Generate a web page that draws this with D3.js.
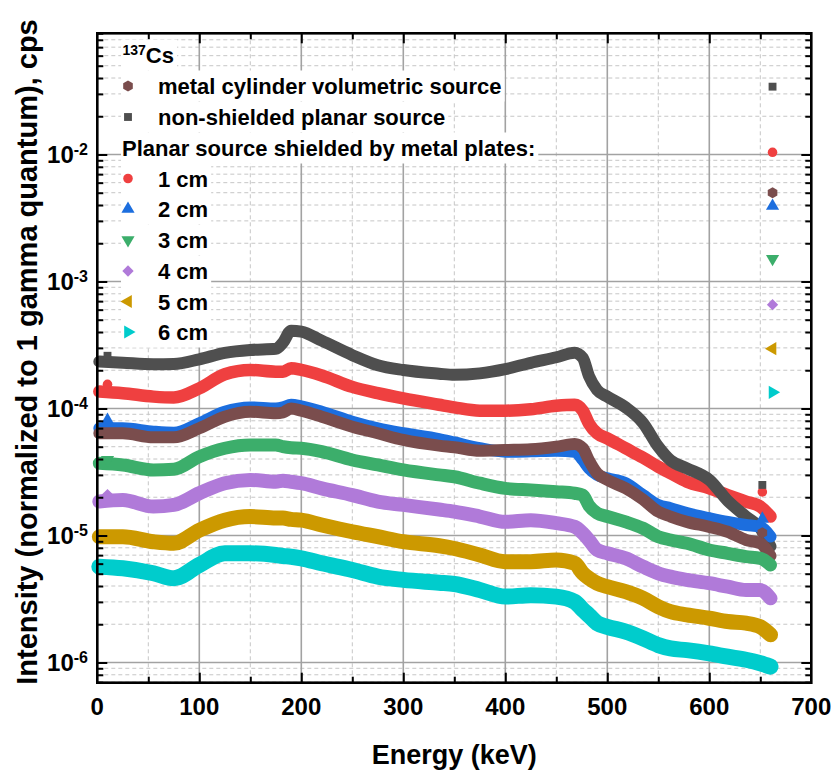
<!DOCTYPE html>
<html>
<head>
<meta charset="utf-8">
<script src="https://cdn.jsdelivr.net/npm/d3@7/dist/d3.min.js"></script>
<style>
body { margin: 0; background: #fff; }
text { font-family: "Liberation Sans", Arial, sans-serif; font-weight: bold; fill: #000; }
</style>
</head>
<body>
<svg id="chart" width="832" height="776"></svg>
<script>
"use strict";

// energy grid (keV) shared by all spectra
var energies = [2, 25, 55, 75, 100, 125, 150, 175, 182, 190, 200, 220, 250, 275, 300, 335, 350, 375, 400, 425,
    450, 468, 476, 482, 490, 500, 518, 535, 550, 562, 578, 600, 618, 636, 650, 660];

var nonShielded = [2.34e-4, 2.29e-4, 2.23e-4, 2.24e-4, 2.44e-4, 2.74e-4, 2.89e-4, 2.95e-4, 3.3e-4, 4.1e-4, 4.03e-4, 3.42e-4,
    2.63e-4, 2.19e-4, 2.01e-4, 1.88e-4, 1.84e-4, 1.89e-4, 2.04e-4, 2.29e-4, 2.53e-4, 2.75e-4, 2.5e-4, 1.8e-4, 1.4e-4,
    1.24e-4, 1.02e-4, 7.7e-5, 5.0e-5, 3.9e-5, 3.38e-5, 2.74e-5, 1.88e-5, 1.41e-5, 1.14e-5, 8.2e-6];
var metalCylinder = [6.38e-5, 6.38e-5, 5.93e-5, 5.93e-5, 6.98e-5, 8.62e-5, 9.43e-5, 9.16e-5, 9.3e-5, 1.0e-4, 9.61e-5, 8.62e-5,
    7.19e-5, 6.38e-5, 5.65e-5, 5.1e-5, 4.95e-5, 4.65e-5, 4.71e-5, 4.77e-5, 5.0e-5, 5.25e-5, 4.86e-5, 3.9e-5, 3.09e-5,
    2.74e-5, 2.35e-5, 1.92e-5, 1.54e-5, 1.41e-5, 1.28e-5, 1.17e-5, 1.07e-5, 9.22e-6, 8.68e-6, 6.9e-6];
var shield1cm = [1.36e-4, 1.32e-4, 1.24e-4, 1.22e-4, 1.44e-4, 1.86e-4, 2.01e-4, 1.95e-4, 1.95e-4, 2.07e-4, 2.01e-4, 1.82e-4,
    1.48e-4, 1.32e-4, 1.2e-4, 1.07e-4, 1.02e-4, 9.61e-5, 9.61e-5, 9.86e-5, 1.05e-4, 1.07e-4, 9.6e-5, 7.6e-5, 6.38e-5,
    5.82e-5, 4.86e-5, 4.1e-5, 3.48e-5, 3.09e-5, 2.65e-5, 2.35e-5, 2.08e-5, 1.85e-5, 1.69e-5, 1.41e-5];
var shield2cm = [6.98e-5, 6.98e-5, 6.57e-5, 6.44e-5, 7.64e-5, 9.43e-5, 1.02e-4, 1.0e-4, 1.02e-4, 1.07e-4, 1.04e-4, 9.43e-5,
    7.87e-5, 6.98e-5, 6.38e-5, 5.75e-5, 5.4e-5, 4.86e-5, 4.57e-5, 4.6e-5, 4.65e-5, 4.57e-5, 3.93e-5, 3.38e-5, 3.0e-5,
    2.82e-5, 2.58e-5, 2.08e-5, 1.74e-5, 1.64e-5, 1.5e-5, 1.37e-5, 1.28e-5, 1.21e-5, 1.17e-5, 9.8e-6];
var shield3cm = [3.7e-5, 3.59e-5, 3.28e-5, 3.32e-5, 4.17e-5, 4.86e-5, 5.16e-5, 5.16e-5, 5.0e-5, 4.9e-5, 4.86e-5, 4.57e-5,
    3.93e-5, 3.59e-5, 3.28e-5, 3.0e-5, 2.9e-5, 2.58e-5, 2.35e-5, 2.28e-5, 2.21e-5, 2.15e-5, 2.08e-5, 1.72e-5, 1.5e-5,
    1.41e-5, 1.28e-5, 1.14e-5, 9.78e-6, 9.22e-6, 8.68e-6, 7.69e-6, 7.24e-6, 6.81e-6, 6.61e-6, 5.86e-6];
var shield4cm = [1.85e-5, 1.9e-5, 1.69e-5, 1.74e-5, 2.15e-5, 2.58e-5, 2.74e-5, 2.65e-5, 2.7e-5, 2.65e-5, 2.58e-5, 2.35e-5,
    2.08e-5, 1.85e-5, 1.74e-5, 1.6e-5, 1.54e-5, 1.41e-5, 1.28e-5, 1.32e-5, 1.25e-5, 1.17e-5, 1.04e-5, 9.2e-6, 7.69e-6,
    7.24e-6, 6.61e-6, 5.68e-6, 5.04e-6, 4.74e-6, 4.47e-6, 4.21e-6, 3.95e-6, 3.72e-6, 3.72e-6, 3.2e-6];
var shield5cm = [9.78e-6, 9.78e-6, 8.93e-6, 8.68e-6, 1.1e-5, 1.32e-5, 1.41e-5, 1.37e-5, 1.37e-5, 1.34e-5, 1.32e-5, 1.21e-5,
    1.07e-5, 9.78e-6, 8.93e-6, 8.3e-6, 7.9e-6, 7.02e-6, 6.22e-6, 6.22e-6, 6.41e-6, 6.04e-6, 5.04e-6, 4.6e-6, 4.2e-6,
    3.95e-6, 3.61e-6, 3.2e-6, 2.75e-6, 2.51e-6, 2.37e-6, 2.23e-6, 2.1e-6, 2.04e-6, 1.91e-6, 1.65e-6];
var shield6cm = [5.68e-6, 5.52e-6, 5.04e-6, 4.6e-6, 5.86e-6, 7.24e-6, 7.24e-6, 7.02e-6, 6.9e-6, 6.8e-6, 6.61e-6, 6.04e-6,
    5.35e-6, 4.74e-6, 4.47e-6, 4.25e-6, 4.15e-6, 3.72e-6, 3.3e-6, 3.39e-6, 3.3e-6, 3.01e-6, 2.6e-6, 2.35e-6, 2.04e-6,
    1.91e-6, 1.75e-6, 1.55e-6, 1.37e-6, 1.29e-6, 1.25e-6, 1.18e-6, 1.11e-6, 1.05e-6, 9.86e-7, 9.27e-7];

// isolated points: low-energy X-ray line, a point near 652 keV and the 662 keV photopeak
// order: non-shielded, metal cylinder, 1..6 cm
var xrayEnergy = 10;
var xrayValues = [2.6e-4, null, 1.55e-4, 8.1e-5, 3.95e-5, 2.1e-5, null, null];
var sumEnergy = 652;
var sumValues = [2.5e-5, 1.05e-5, 2.2e-5, 1.35e-5, null, null, null, null];
var peakEnergy = 662;
var peakValues = [0.0342, 5.0e-3, 1.04e-2, 3.93e-3, 1.51e-3, 6.57e-4, 2.96e-4, 1.34e-4];

var seriesNames = ["non-shielded planar source", "metal cylinder volumetric source", "1 cm", "2 cm", "3 cm", "4 cm", "5 cm", "6 cm"];
var xTicks = [0, 100, 200, 300, 400, 500, 600, 700];
var yDecades = [-6, -5, -4, -3, -2];

var padL = 97.3, padR = 811.3, padT = 33.3, padB = 682.7;

var hexagon = {
    draw: function (ctx, size) {
        var r = Math.sqrt(size / 2.598), i, a;
        for (i = 0; i < 6; i++) {
            a = Math.PI / 3 * i + Math.PI / 6;
            if (i === 0) { ctx.moveTo(r * Math.cos(a), r * Math.sin(a)); } else { ctx.lineTo(r * Math.cos(a), r * Math.sin(a)); }
        }
        ctx.closePath();
    }
};

// drawing styles, same order as the data
var styles = [
    {color: "#4f4f4f", shape: d3.symbolSquare, rot: 0, size: 62, band: 12},
    {color: "#7a4d4d", shape: hexagon, rot: 0, size: 80, band: 12},
    {color: "#ef4040", shape: d3.symbolCircle, rot: 0, size: 72, band: 12.5},
    {color: "#1c6ede", shape: d3.symbolTriangle, rot: 0, size: 75, band: 12},
    {color: "#3cae6b", shape: d3.symbolTriangle, rot: 180, size: 75, band: 13},
    {color: "#b07ad9", shape: d3.symbolSquare, rot: 45, size: 64, band: 14},
    {color: "#cc9900", shape: d3.symbolTriangle, rot: -90, size: 75, band: 15},
    {color: "#00cccc", shape: d3.symbolTriangle, rot: 90, size: 75, band: 16}
];
var allValues = [nonShielded, metalCylinder, shield1cm, shield2cm, shield3cm, shield4cm, shield5cm, shield6cm];

var svg = d3.select("#chart");
var x = d3.scaleLinear().domain([0, 700]).range([padL, padR]);
var y = d3.scaleLog().domain([6.93e-7, 0.09]).range([padB, padT]);

var minorY = [];
yDecades.concat([-7]).forEach(function (k) {
    d3.range(2, 10).forEach(function (m) {
        var v = m * Math.pow(10, k);
        if (v >= y.domain()[0] && v <= y.domain()[1] * 1.0001) { minorY.push(v); }
    });
});
var majorY = yDecades.map(function (k) { return Math.pow(10, k); });
var minorX = d3.range(50, 700, 100);
var majorX = d3.range(100, 700, 100);

// grid
var grid = svg.append("g");
grid.selectAll(".mx").data(minorX).enter().append("line")
    .attr("x1", x).attr("x2", x).attr("y1", padT).attr("y2", padB)
    .attr("stroke", "#c6c6c6").attr("stroke-width", 1).attr("stroke-dasharray", "4,3");
grid.selectAll(".my").data(minorY).enter().append("line")
    .attr("x1", padL).attr("x2", padR).attr("y1", y).attr("y2", y)
    .attr("stroke", "#c6c6c6").attr("stroke-width", 1).attr("stroke-dasharray", "4,3");
grid.selectAll(".gx").data(majorX).enter().append("line")
    .attr("x1", x).attr("x2", x).attr("y1", padT).attr("y2", padB)
    .attr("stroke", "#a2a2a2").attr("stroke-width", 1.6);
grid.selectAll(".gy").data(majorY).enter().append("line")
    .attr("x1", padL).attr("x2", padR).attr("y1", y).attr("y2", y)
    .attr("stroke", "#a2a2a2").attr("stroke-width", 1.6);

// spectra as dense bands
var plot = svg.append("g");
var drawOrder = [2, 0, 3, 1, 4, 5, 6, 7];
var line = d3.line().curve(d3.curveMonotoneX)
    .x(function (d) { return x(d[0]); })
    .y(function (d) { return y(d[1]); });

function marker(g, i, e, v) {
    var st = styles[i];
    g.append("path")
        .attr("d", d3.symbol().type(st.shape).size(st.size)())
        .attr("transform", "translate(" + x(e) + "," + y(v) + ") rotate(" + st.rot + ")")
        .attr("fill", st.color);
}

drawOrder.forEach(function (i) {
    var pts = energies.map(function (e, j) { return [e, allValues[i][j]]; });
    plot.append("path").datum(pts)
        .attr("d", line)
        .attr("fill", "none")
        .attr("stroke", styles[i].color)
        .attr("stroke-width", styles[i].band)
        .attr("stroke-linejoin", "round")
        .attr("stroke-linecap", "round");
    if (xrayValues[i] !== null) { marker(plot, i, xrayEnergy, xrayValues[i]); }
    if (sumValues[i] !== null) { marker(plot, i, sumEnergy, sumValues[i]); }
    marker(plot, i, peakEnergy, peakValues[i]);
});

// axes: ticks point inward on all four sides
function styleAxis(g) {
    g.select(".domain").remove();
    g.selectAll(".tick line").attr("stroke", "#000").attr("stroke-width", 2);
    g.selectAll(".tick text").remove();
}
[[d3.axisBottom, padB], [d3.axisTop, padT]].forEach(function (a) {
    svg.append("g").attr("transform", "translate(0," + a[1] + ")")
        .call(a[0](x).tickValues(majorX).tickSize(-10)).call(styleAxis);
    svg.append("g").attr("transform", "translate(0," + a[1] + ")")
        .call(a[0](x).tickValues(minorX).tickSize(-6)).call(styleAxis);
});
[[d3.axisLeft, padL], [d3.axisRight, padR]].forEach(function (a) {
    svg.append("g").attr("transform", "translate(" + a[1] + ",0)")
        .call(a[0](y).tickValues(majorY).tickSize(-10)).call(styleAxis);
    svg.append("g").attr("transform", "translate(" + a[1] + ",0)")
        .call(a[0](y).tickValues(minorY).tickSize(-6)).call(styleAxis);
});

svg.append("rect").attr("x", padL).attr("y", padT)
    .attr("width", padR - padL).attr("height", padB - padT)
    .attr("fill", "none").attr("stroke", "#000").attr("stroke-width", 2.6);

// tick labels
svg.selectAll(".xl").data(xTicks).enter().append("text")
    .attr("x", x).attr("y", 715)
    .attr("text-anchor", "middle").attr("font-size", 24)
    .text(function (d) { return d; });
var yl = svg.selectAll(".yl").data(yDecades).enter().append("text")
    .attr("x", 88).attr("y", function (k) { return y(Math.pow(10, k)) + 9; })
    .attr("text-anchor", "end").attr("font-size", 24);
yl.append("tspan").text("10");
yl.append("tspan").attr("dy", -8).attr("font-size", 16).text(function (k) { return "-" + (-k); });

// axis titles
svg.append("text").attr("x", (padL + padR) / 2).attr("y", 764)
    .attr("text-anchor", "middle").attr("font-size", 27).text("Energy (keV)");
svg.append("text").attr("transform", "translate(37,352) rotate(-90)")
    .attr("text-anchor", "middle").attr("font-size", 29)
    .text("Intensity (normalized to 1 gamma quantum), cps");

// legend: each row sits on its own white patch
var legend = svg.append("g");
function legendRow(cy, textX, build, symbolIndex) {
    var row = legend.append("g");
    var bg = row.append("rect").attr("fill", "#fff");
    var t = row.append("text").attr("x", textX).attr("y", cy + 8).attr("font-size", 22);
    build(t);
    var end = textX + t.node().getComputedTextLength();
    bg.attr("x", 121).attr("y", cy - 15.5).attr("width", end - 121 + 3).attr("height", 31);
    if (symbolIndex !== undefined) {
        var st = styles[symbolIndex];
        row.append("path")
            .attr("d", d3.symbol().type(st.shape).size(st.size)())
            .attr("transform", "translate(128," + cy + ") rotate(" + st.rot + ")")
            .attr("fill", st.color);
    }
}
legendRow(55, 122.5, function (t) {
    t.append("tspan").attr("font-size", 14).attr("dy", -8).text("137");
    t.append("tspan").attr("dy", 8).text("Cs");
});
var rowY = [86, 117, 148, 178.5, 209, 240, 271, 301.5, 332];
legendRow(rowY[0], 158, function (t) { t.text(seriesNames[1]); }, 1);
legendRow(rowY[1], 158, function (t) { t.text(seriesNames[0]); }, 0);
legendRow(rowY[2], 122, function (t) { t.text("Planar source shielded by metal plates:"); });
[2, 3, 4, 5, 6, 7].forEach(function (i, k) {
    legendRow(rowY[3 + k], 158, function (t) { t.text(seriesNames[i]); }, i);
});
</script>
</body>
</html>
